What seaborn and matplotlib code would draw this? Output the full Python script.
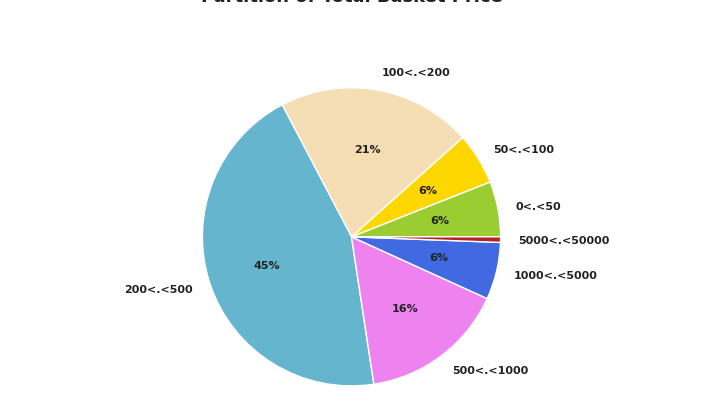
import matplotlib
matplotlib.use('Agg')
import matplotlib.pyplot as plt
import seaborn as sns

sns.set_style('white')
plt.rcParams['font.family'] = 'DejaVu Sans'

labels = ['0<.<50', '50<.<100', '100<.<200', '200<.<500', '500<.<1000', '1000<.<5000', '5000<.<50000']
values = [6.0, 5.6, 21.1, 44.7, 15.8, 6.2, 0.6]
colors = ['yellowgreen', 'gold', 'wheat', '#64b5cd', 'violet', 'royalblue', 'firebrick']

fig, ax = plt.subplots(figsize=(7.03, 4.10), dpi=100)
ax.pie(values, labels=labels, colors=colors, startangle=0,
       autopct=lambda p: '{:.0f}%'.format(p) if p > 1 else '',
       textprops={'fontsize': 8, 'fontweight': 'bold', 'color': '#222222'},
       labeldistance=1.12, radius=1.0)
ax.axis('equal')
ax.set_title('Partition of Total Basket Price', fontsize=13, fontweight='bold',
             color='#222222', pad=52)
fig.subplots_adjust(left=0.05, right=0.95, top=0.82, bottom=0.02)
fig.savefig('out.png', dpi=100)
